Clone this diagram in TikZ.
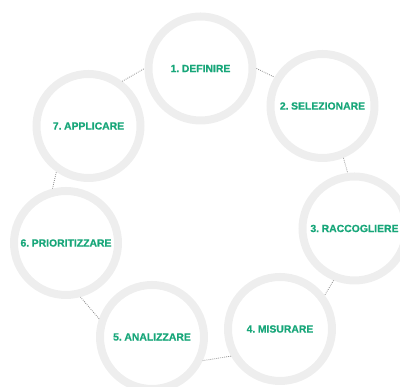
\documentclass[tikz,border=0pt]{standalone}
\usepackage{fontspec}
\setmainfont{Liberation Sans}[WordSpace=0.55, BoldFeatures={FakeBold=0.8}]
\usepackage{tikz}
\definecolor{ringgray}{HTML}{EEEEEE}
\definecolor{stepgreen}{HTML}{17A679}
\definecolor{linkgray}{HTML}{8A8A8A}

\begin{document}
\begin{tikzpicture}[
  x=1pt, y=1pt,
  phase/.style={circle, draw=ringgray, line width=8pt, minimum size=104pt,
                inner sep=0pt, align=center, text=stepgreen,
                font=\fontsize{10.4}{12}\selectfont\bfseries},
  link/.style={linkgray, line width=0.8pt, dash pattern=on 0.8pt off 1.2pt}
]
\useasboundingbox (0,0) rectangle (400,387);
\node[phase] (def)  at (200.5,318.5) {1. DEFINIRE};
\node[phase] (sel)  at (322.5,281)   {2. SELEZIONARE};
\node[phase] (racc) at (354.5,158.5) {3. RACCOGLIERE};
\node[phase] (mis)  at (280,58)      {4. MISURARE};
\node[phase] (anal) at (152,50)      {5. ANALIZZARE};
\node[phase] (prio) at (66,144)      {6. PRIORITIZZARE};
\node[phase] (appl) at (88.5,261)    {7. APPLICARE};
\draw[link] (appl.53)  -- (def.180);
\draw[link] (def.0)    -- (sel.149);
\draw[link] (sel.-68)  -- (racc.97);
\draw[link] (racc.248) -- (mis.37);
\draw[link] (mis.209)  -- (anal.-25);
\draw[link] (anal.161) -- (prio.-75);
\draw[link] (prio.104) -- (appl.235);
\end{tikzpicture}
\end{document}
